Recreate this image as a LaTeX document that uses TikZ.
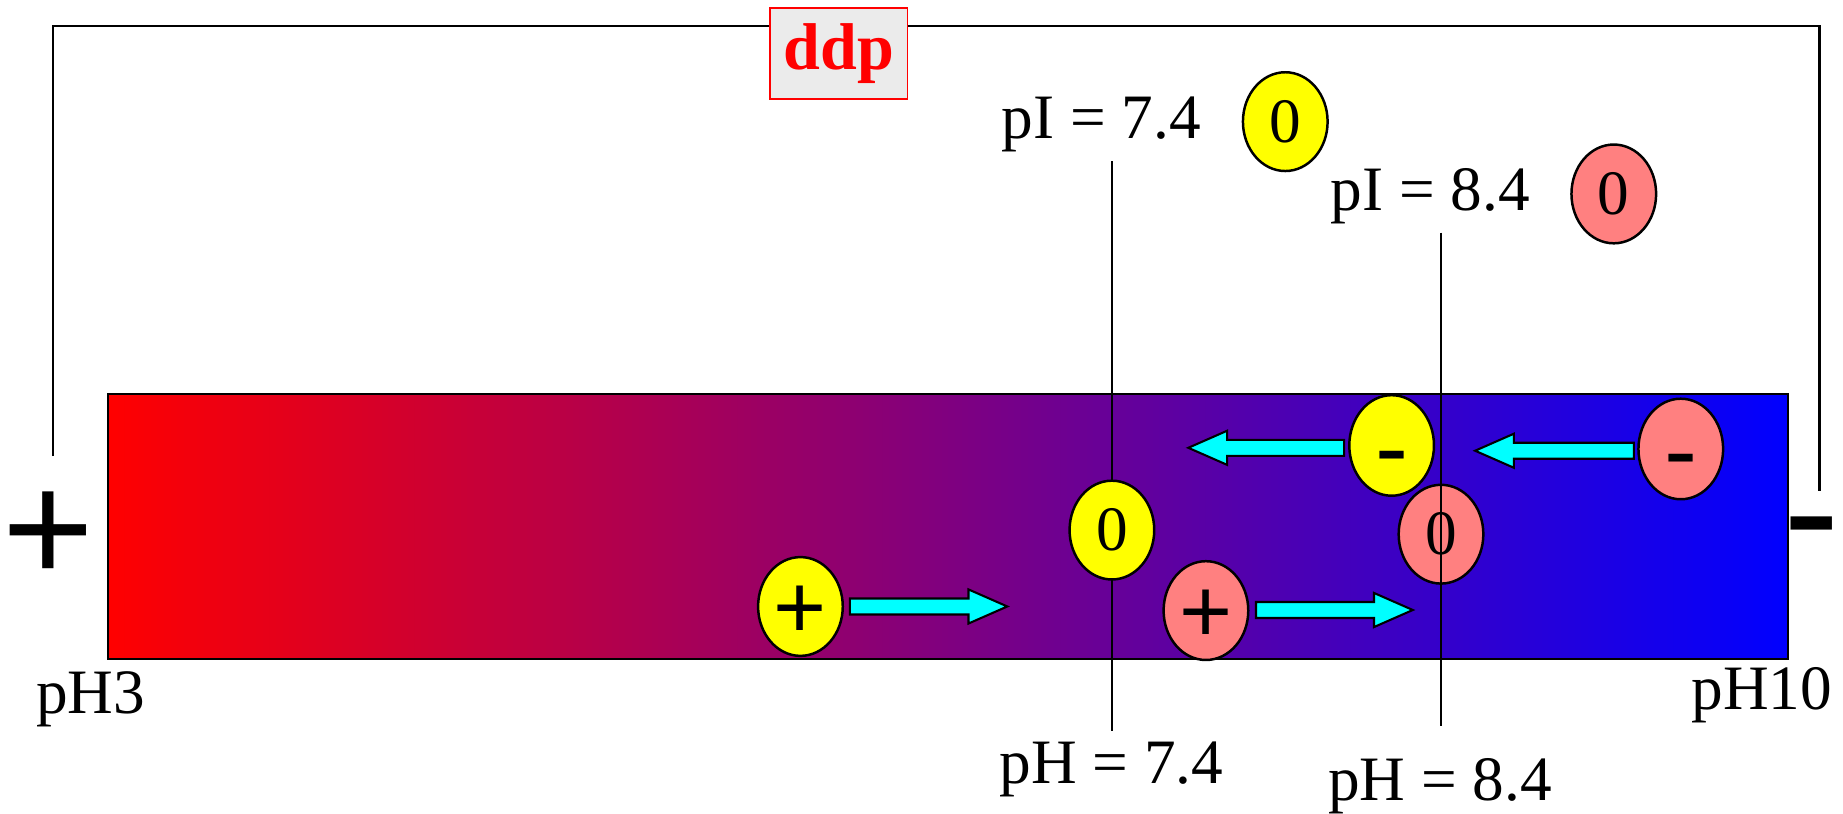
\documentclass[tikz,border=0pt]{standalone}
\usepackage{fontspec}
\setmainfont{Liberation Serif}
\newfontfamily\arialfont{Liberation Sans}
\usetikzlibrary{shapes.geometric}
\definecolor{ionyellow}{RGB}{255,255,0}
\definecolor{ionpink}{RGB}{255,128,128}
\definecolor{flowcyan}{RGB}{0,255,255}
\definecolor{ddpgray}{RGB}{235,235,235}
\begin{document}
\begin{tikzpicture}[x=0.01cm, y=-0.01cm, every node/.style={font=\fontsize{15.3}{18}\selectfont},
  ion/.style={ellipse, draw, line width=0.6pt, minimum width=0.72cm, minimum height=0.84cm, inner sep=0pt},
  pos ion/.style={ion, font=\arialfont\fontsize{22}{24}\selectfont, text height=15.4pt, text depth=0pt},
  neg ion/.style={ion, font=\arialfont\fontsize{24}{26}\selectfont, text height=17.2pt, text depth=0pt},
  flow/.style={fill=flowcyan, draw=black, line width=0.5pt},
  wire/.style={line width=0.5pt}]
  \useasboundingbox (0,0) rectangle (1568,692);

  % Circuit wire and ddp
  \coordinate (wl) at (45,388);
  \coordinate (wtop) at (45,22);
  \coordinate (wr) at (1548,418);
  \draw[wire] (wl) -- (wtop) -| (wr);
  \node[draw=red, fill=ddpgray, text=red, minimum width=1.13cm, minimum height=0.77cm,
        font=\bfseries\fontsize{16}{18}\selectfont] (ddp) at (713.5,45.5) {ddp};

  % Gel strip
  \node[draw, left color=red, right color=blue, minimum width=14.29cm, minimum height=2.26cm,
        inner sep=0pt, line width=0.5pt] (gel) at (806.5,448) {};

  % Electrodes
  \node[anchor=base, inner sep=0pt, font=\arialfont\fontsize{38}{40}\selectfont] (anode) at (41,496) {+};
  \node[anchor=base, inner sep=0pt, font=\arialfont\fontsize{41}{43}\selectfont] (cathode) at (1541.5,484) {-};
  \node[anchor=base] (ph3) at (77,607) {pH3};
  \node[anchor=base] (ph10) at (1499,604) {pH10};

  % pI marks
  \node[anchor=base] (pIa) at (937,117.7) {pI = 7.4};
  \node[ion, fill=ionyellow] (za) at (1093.5,103.5) {0};
  \node[anchor=base] (pIb) at (1217,179) {pI = 8.4};
  \node[ion, fill=ionpink] (zb) at (1373,165) {0};
  \node[anchor=base] (pHa) at (945.5,667) {pH = 7.4};
  \node[anchor=base] (pHb) at (1225,681) {pH = 8.4};
  \coordinate (ta) at (946,137);
  \coordinate (ba) at (946,622);
  \coordinate (tb) at (1226,198);
  \coordinate (bb) at (1226,618);
  \draw (ta) -- (ba);

  % Ions in the gel
  \node[pos ion, fill=ionyellow] (pa) at (681,516) {+};
  \node[ion, fill=ionyellow] (na) at (946,451) {0};
  \node[neg ion, fill=ionyellow] (ma) at (1184,379) {-};
  \node[pos ion, fill=ionpink] (pb) at (1026,519.5) {+};
  \node[ion, fill=ionpink] (nb) at (1226,454.5) {0};
  \node[neg ion, fill=ionpink] (mb) at (1430,382) {-};
  \draw (tb) -- (bb);

  % Migration arrows
  \draw[flow] (723,509.2) -- (824,509.2) -- (824,501.5) -- (857,516) -- (824,530.5) -- (824,522.8) -- (723,522.8) -- cycle;
  \draw[flow] (1068.6,512.2) -- (1169,512.2) -- (1169,504.5) -- (1202,519) -- (1169,533.5) -- (1169,525.8) -- (1068.6,525.8) -- cycle;
  \draw[flow] (1143.6,374.2) -- (1044,374.2) -- (1044,366.5) -- (1011,381) -- (1044,395.5) -- (1044,387.8) -- (1143.6,387.8) -- cycle;
  \draw[flow] (1390,376.7) -- (1288,376.7) -- (1288,369) -- (1255,383.5) -- (1288,398) -- (1288,390.3) -- (1390,390.3) -- cycle;
\end{tikzpicture}
\end{document}
